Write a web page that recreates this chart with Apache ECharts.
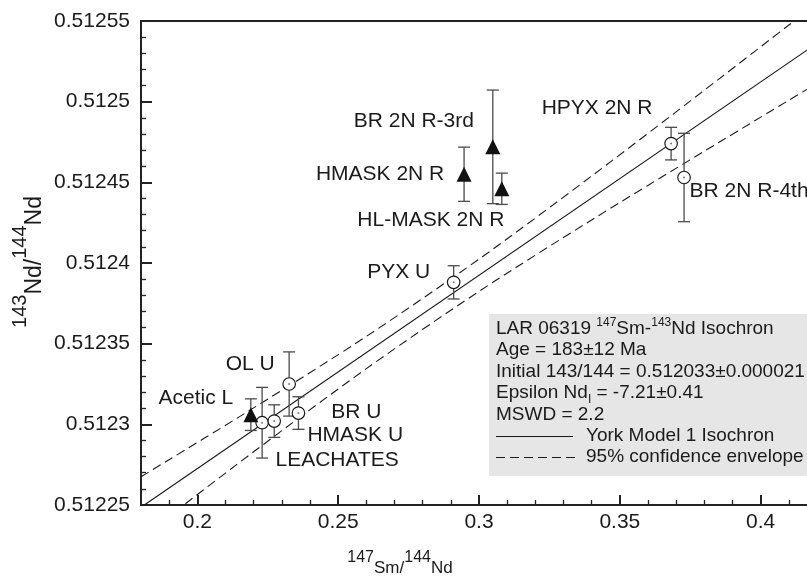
<!DOCTYPE html>
<html><head><meta charset="utf-8">
<script src="https://cdn.jsdelivr.net/npm/echarts@6/dist/echarts.min.js"></script>
<style>html,body{margin:0;padding:0;background:#fff}#c{width:807px;height:577px}</style>
</head><body><div id="c"></div>
<script>
// ---- data ----
const sampleNames = ['Acetic L','LEACHATES','HMASK U','OL U','BR U','PYX U','HMASK 2N R','BR 2N R-3rd','HL-MASK 2N R','HPYX 2N R','BR 2N R-4th'];
const sm147 = [0.2190,0.2230,0.2273,0.2326,0.2359,0.2910,0.2947,0.3049,0.3081,0.3682,0.3728];
const nd143 = [0.512306,0.512301,0.512302,0.512325,0.512307,0.512388,0.512455,0.512472,0.512446,0.512474,0.512453];
const nd143Err = [0.0000098,0.0000219,0.0000101,0.0000199,0.0000101,0.0000103,0.0000168,0.0000352,0.0000097,0.0000101,0.0000274];
const markerKind = ['triangle','circle','circle','circle','circle','circle','triangle','triangle','triangle','circle','circle'];
const isochronX = [0.18, 0.42];
const isochronY = [0.5122486, 0.5125362];
const envelopeX = [0.18,0.22,0.26,0.30,0.34,0.38,0.42];
const envelopeUpper = [0.5122675,0.5123102,0.5123545,0.5124024,0.5124539,0.5125071,0.5125610];
const envelopeLower = [0.5122297,0.5122830,0.5123345,0.5123824,0.5124267,0.5124693,0.5125114];
const legendLines = ['Age = 183\u00b112 Ma','Initial 143/144 = 0.512033\u00b10.000021','MSWD = 2.2','York Model 1 Isochron','95% confidence envelope'];

// ---- label placement (pixel offsets from each marker) ----
const labelOffsets = [[-55,-16],[75,37],[81,14],[-39,-20],[58,-1],[-55,-10],[-84,0],[-79,-26],[-71,31],[-74,-35],[65,14]];

const FONT = '"Liberation Sans", Arial, Helvetica, sans-serif';
const INK = '#1a1a1a';
const mctx = document.createElement('canvas').getContext('2d');
function tw(t, s){ mctx.font = s + 'px ' + FONT; return mctx.measureText(t).width; }
function runs(segs, x, y, center){
  let total = 0; segs.forEach(s => total += tw(s[0], s[1]));
  let cx = center ? x - total/2 : x;
  const out = [];
  segs.forEach(([t, s, dy]) => {
    out.push({type:'text', x: cx, y: y + (dy||0), z: 10,
      style:{text:t, font: s + 'px ' + FONT, fill: INK, align:'left', verticalAlign:'middle', textAlign:'left', textVerticalAlign:'middle'}});
    cx += tw(t, s);
  });
  return out;
}

const pts = sampleNames.map((n,i)=>({name:n, value:[sm147[i], nd143[i]], kind:markerKind[i], label:{offset:labelOffsets[i]}}));
const strip = p => ({name:p.name, value:p.value, label:p.label});
const circleData = pts.filter(p=>p.kind==='circle').map(strip);
const triData = pts.filter(p=>p.kind==='triangle').map(strip);
const errData = sampleNames.map((n,i)=>[sm147[i], nd143[i]-nd143Err[i], nd143[i]+nd143Err[i]]);

const labelCfg = {show:true, position:'inside', formatter:'{b}', color:INK, fontSize:21, fontFamily:FONT, align:'center', verticalAlign:'middle', textBorderWidth:0};

const chart = echarts.init(document.getElementById('c'), null, {renderer:'canvas'});

const graphic = [];
// y title
graphic.push({type:'group', x:35, y:262, rotation:Math.PI/2,
  children: runs([['143',20,-15],['Nd/',23,0],['144',20,-15],['Nd',23,0]], 0, 0, true)});
// x title
graphic.push({type:'group', x:400, y:568,
  children: runs([['147',16,-10],['Sm/',17,0],['144',16,-10],['Nd',17,0]], 0, 0, true)});
// legend box
graphic.push({type:'rect', shape:{x:489, y:314, width:330, height:162}, style:{fill:'#e6e6e6'}, z:5});
const LX = 496;
runs([['LAR 06319 ',19,0],['147',12,-6],['Sm-',19,0],['143',12,-6],['Nd Isochron',19,0]], LX, 329).forEach(e=>graphic.push(e));
runs([[legendLines[0],19,0]], LX, 350).forEach(e=>graphic.push(e));
runs([[legendLines[1],19,0]], LX, 371.5).forEach(e=>graphic.push(e));
runs([['Epsilon Nd',19,0],['I',12,7],[' = -7.21\u00b10.41',19,0]], LX, 392.5).forEach(e=>graphic.push(e));
runs([[legendLines[2],19,0]], LX, 415).forEach(e=>graphic.push(e));
graphic.push({type:'line', shape:{x1:496,y1:436.5,x2:573,y2:436.5}, style:{stroke:INK, lineWidth:1.2}, z:10});
runs([[legendLines[3],19,0]], 586, 436).forEach(e=>graphic.push(e));
graphic.push({type:'line', shape:{x1:496,y1:457.5,x2:576,y2:457.5}, style:{stroke:INK, lineWidth:1.2, lineDash:[9,5]}, z:10});
runs([[legendLines[4],19,0]], 586, 457).forEach(e=>graphic.push(e));

const option = {
  animation:false,
  backgroundColor:'#fff',
  grid:{left:141, top:21, bottom:72, right:-10, containLabel:false, outerBoundsMode:'none',
        show:true, borderColor:'#222', borderWidth:2, backgroundColor:'transparent'},
  xAxis:{type:'value', min:0.18, max:0.42, splitNumber:5,
    axisLine:{lineStyle:{color:'#222', width:2}},
    axisTick:{inside:true, length:10, lineStyle:{color:'#222', width:2}},
    minorTick:{show:true, splitNumber:5, length:5, lineStyle:{color:'#222', width:1.3}},
    splitLine:{show:false}, minorSplitLine:{show:false},
    axisLabel:{color:INK, fontSize:21, fontFamily:FONT, margin:7, showMinLabel:false, showMaxLabel:false,
      formatter: v => String(+v.toFixed(4))}},
  yAxis:{type:'value', min:0.51225, max:0.51255, interval:0.00005,
    axisLine:{lineStyle:{color:'#222', width:2}},
    axisTick:{inside:true, length:11, lineStyle:{color:'#222', width:2}},
    minorTick:{show:true, splitNumber:5, length:5, lineStyle:{color:'#222', width:1.3}},
    splitLine:{show:false}, minorSplitLine:{show:false},
    axisLabel:{color:INK, fontSize:21, fontFamily:FONT, margin:11, showMinLabel:true, showMaxLabel:true,
      formatter: v => String(+v.toFixed(6))}},
  graphic: graphic,
  series:[
    {type:'line', name:'York Model 1 Isochron', data:isochronX.map((x,i)=>[x, isochronY[i]]),
     showSymbol:false, symbol:'none', lineStyle:{color:INK, width:1.2}, z:2, clip:true, silent:true},
    {type:'line', name:'upper', data:envelopeX.map((x,i)=>[x, envelopeUpper[i]]), smooth:0.3,
     showSymbol:false, symbol:'none', lineStyle:{color:INK, width:1.1, type:[9,5]}, z:2, clip:true, silent:true},
    {type:'line', name:'lower', data:envelopeX.map((x,i)=>[x, envelopeLower[i]]), smooth:0.3,
     showSymbol:false, symbol:'none', lineStyle:{color:INK, width:1.1, type:[9,5]}, z:2, clip:true, silent:true},
    {type:'custom', name:'err', data:errData, encode:{x:0, y:[1,2]}, z:3, silent:true,
     renderItem:(params, api)=>{
       const x = api.value(0);
       const a = api.coord([x, api.value(1)]), b = api.coord([x, api.value(2)]);
       const st = {stroke:'#4a4a4a', lineWidth:1.3};
       const cap = 6;
       return {type:'group', children:[
         {type:'line', shape:{x1:a[0], y1:a[1], x2:b[0], y2:b[1]}, style:st},
         {type:'line', shape:{x1:a[0]-cap, y1:a[1], x2:a[0]+cap, y2:a[1]}, style:st},
         {type:'line', shape:{x1:b[0]-cap, y1:b[1], x2:b[0]+cap, y2:b[1]}, style:st}
       ]};
     }},
    {type:'scatter', name:'circles', data:circleData, symbol:'circle', symbolSize:12.5, z:4,
     itemStyle:{color:'#fff', borderColor:INK, borderWidth:1.2, opacity:1}, label:labelCfg},
    {type:'scatter', name:'dots', data:circleData.map(p=>p.value), symbol:'circle', symbolSize:2, z:5, silent:true,
     itemStyle:{color:'#555'}},
    {type:'scatter', name:'triangles', data:triData, symbol:'triangle', symbolSize:15, z:4,
     itemStyle:{color:'#111', opacity:1}, label:labelCfg}
  ]
};
chart.setOption(option);
</script></body></html>
